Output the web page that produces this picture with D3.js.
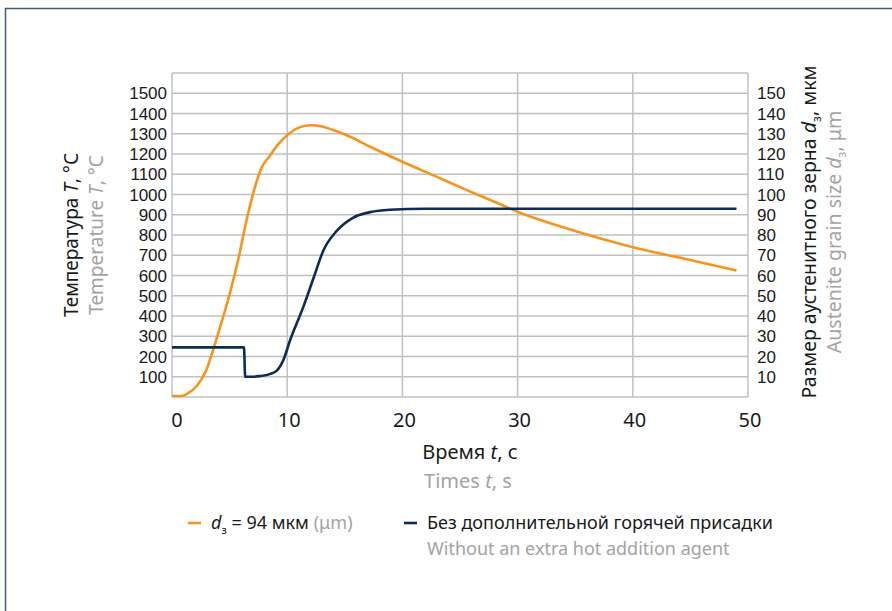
<!DOCTYPE html>
<html>
<head>
<meta charset="utf-8">
<script src="https://cdn.jsdelivr.net/npm/d3@7"></script>
<style>
  body { margin:0; background:#fff; }
  text { font-family: "Noto Sans", "Open Sans", sans-serif; }
  .tick { font-family: "Liberation Sans", Arial, sans-serif; }
</style>
</head>
<body>
<svg id="chart"></svg>
<script>
// temperature, deg C (left axis)
var tempTime = [0, 0.8, 1.3, 2.2, 2.9, 3.6, 4.35, 5.05, 5.8, 6.5, 7.2, 7.8, 8.4, 9.25, 10.1, 11, 12, 13, 14.3, 15.5, 17.2, 20, 23, 26, 28.5, 30, 34.3, 40, 44.4, 49];
var tempVal  = [5, 5, 15, 58, 123, 238, 378, 518, 691, 880, 1036, 1135, 1184, 1250, 1298, 1330, 1342, 1336, 1312, 1284, 1236, 1162, 1087, 1012, 952, 915, 832, 740, 684, 625];

// grain size without extra addition, um (right axis)
var grainTime = [0, 6.25, 6.35, 7.0, 7.6, 8.5, 9.1, 9.65, 10.25, 11.4, 12.3, 13.15, 14.3, 15.7, 17.2, 18.9, 22, 49];
var grainVal  = [24.5, 24.5, 10, 10, 10.3, 11.3, 13, 18, 28, 44.5, 59, 72.5, 82, 88.5, 91.3, 92.5, 93, 93];

var xTicks = [0, 10, 20, 30, 40, 50];
var leftTicks = [100, 200, 300, 400, 500, 600, 700, 800, 900, 1000, 1100, 1200, 1300, 1400, 1500];
var rightTicks = [10, 20, 30, 40, 50, 60, 70, 80, 90, 100, 110, 120, 130, 140, 150];

var width = 892, height = 611;
var orange = "#f7941d", navy = "#0c2c56", grey = "#a3a3a3", ink = "#1a1a1a";

var svg = d3.select("#chart")
    .attr("width", width)
    .attr("height", height);

svg.append("rect").attr("width", width).attr("height", height).attr("fill", "#fff");

// outer frame (only top and left visible)
svg.append("path")
    .attr("d", "M5.5," + height + "V8.5H" + width)
    .attr("fill", "none")
    .attr("stroke", "#41607f")
    .attr("stroke-width", 1.5);

var x = d3.scaleLinear().domain([0, 50]).range([172, 748]);
var yL = d3.scaleLinear().domain([0, 1600]).range([397, 73]);
var yR = d3.scaleLinear().domain([0, 160]).range([397, 73]);

// grid
var grid = svg.append("g").attr("stroke", "#c0c0c0").attr("stroke-width", 1.5);
grid.selectAll("line.h")
    .data(d3.range(0, 1601, 100))
    .enter().append("line")
    .attr("x1", x(0)).attr("x2", x(50))
    .attr("y1", function(d) { return yL(d); })
    .attr("y2", function(d) { return yL(d); });
grid.selectAll("line.v")
    .data(xTicks)
    .enter().append("line")
    .attr("y1", yL(0)).attr("y2", yL(1600))
    .attr("x1", function(d) { return x(d); })
    .attr("x2", function(d) { return x(d); });

// left tick labels
svg.append("g").selectAll("text")
    .data(leftTicks)
    .enter().append("text")
    .attr("class", "tick")
    .attr("x", 167)
    .attr("y", function(d) { return yL(d) + 6; })
    .attr("text-anchor", "end")
    .attr("font-size", 17)
    .attr("fill", ink)
    .text(function(d) { return d; });

// right tick labels
svg.append("g").selectAll("text")
    .data(rightTicks)
    .enter().append("text")
    .attr("class", "tick")
    .attr("x", 757)
    .attr("y", function(d) { return yR(d) + 6; })
    .attr("font-size", 17)
    .attr("fill", ink)
    .text(function(d) { return d; });

// x tick labels
svg.append("g").selectAll("text")
    .data(xTicks)
    .enter().append("text")
    .attr("x", function(d) { return x(d) + (d == 0 ? 5 : 2); })
    .attr("y", 427)
    .attr("text-anchor", "middle")
    .attr("font-size", 20)
    .attr("fill", ink)
    .text(function(d) { return d; });

// lines
var tempLine = d3.line()
    .x(function(d) { return x(d[0]); })
    .y(function(d) { return yL(d[1]); })
    .curve(d3.curveMonotoneX);
var grainLine = d3.line()
    .x(function(d) { return x(d[0]); })
    .y(function(d) { return yR(d[1]); })
    .curve(d3.curveMonotoneX);

svg.append("path")
    .datum(d3.zip(tempTime, tempVal))
    .attr("d", tempLine)
    .attr("fill", "none")
    .attr("stroke", orange)
    .attr("stroke-width", 2.6);

svg.append("path")
    .datum(d3.zip(grainTime, grainVal))
    .attr("d", grainLine)
    .attr("fill", "none")
    .attr("stroke", navy)
    .attr("stroke-width", 2.6);

// axis titles
var lt = svg.append("text")
    .attr("transform", "translate(78,235) rotate(-90)")
    .attr("text-anchor", "middle")
    .attr("font-size", 19)
    .attr("fill", ink);
lt.append("tspan").text("Температура ");
lt.append("tspan").attr("font-style", "italic").text("T");
lt.append("tspan").text(", °С");

var lt2 = svg.append("text")
    .attr("transform", "translate(103,235) rotate(-90)")
    .attr("text-anchor", "middle")
    .attr("font-size", 19)
    .attr("fill", grey);
lt2.append("tspan").text("Temperature ");
lt2.append("tspan").attr("font-style", "italic").text("T");
lt2.append("tspan").text(", °C");

var rt = svg.append("text")
    .attr("transform", "translate(816,232) rotate(-90)")
    .attr("text-anchor", "middle")
    .attr("font-size", 19.5)
    .attr("fill", ink);
rt.append("tspan").text("Размер аустенитного зерна ");
rt.append("tspan").attr("font-style", "italic").text("d");
rt.append("tspan").attr("font-size", 12).attr("dy", 5).text("з");
rt.append("tspan").attr("dy", -5).text(", мкм");

var rt2 = svg.append("text")
    .attr("transform", "translate(841,232) rotate(-90)")
    .attr("text-anchor", "middle")
    .attr("font-size", 19.5)
    .attr("fill", grey);
rt2.append("tspan").text("Austenite grain size ");
rt2.append("tspan").attr("font-style", "italic").text("d");
rt2.append("tspan").attr("font-size", 12).attr("dy", 5).text("з");
rt2.append("tspan").attr("dy", -5).text(", μm");

var xt = svg.append("text")
    .attr("x", 470).attr("y", 459)
    .attr("text-anchor", "middle")
    .attr("font-size", 20)
    .attr("fill", ink);
xt.append("tspan").text("Время ");
xt.append("tspan").attr("font-style", "italic").text("t");
xt.append("tspan").text(", с");

var xt2 = svg.append("text")
    .attr("x", 468).attr("y", 488)
    .attr("text-anchor", "middle")
    .attr("font-size", 20)
    .attr("fill", grey);
xt2.append("tspan").text("Times ");
xt2.append("tspan").attr("font-style", "italic").text("t");
xt2.append("tspan").text(", s");

// legend
var legend = svg.append("g");
legend.append("line")
    .attr("x1", 188).attr("x2", 201).attr("y1", 523).attr("y2", 523)
    .attr("stroke", orange).attr("stroke-width", 2.6);
var l1 = legend.append("text")
    .attr("x", 211).attr("y", 529)
    .attr("font-size", 18)
    .attr("fill", ink);
l1.append("tspan").attr("font-style", "italic").text("d");
l1.append("tspan").attr("font-size", 11).attr("dy", 5).text("з");
l1.append("tspan").attr("dy", -5).text(" = 94 мкм ");
l1.append("tspan").attr("fill", grey).text("(μm)");

legend.append("line")
    .attr("x1", 404).attr("x2", 417).attr("y1", 523).attr("y2", 523)
    .attr("stroke", navy).attr("stroke-width", 2.6);
legend.append("text")
    .attr("x", 427).attr("y", 529)
    .attr("font-size", 18)
    .attr("fill", ink)
    .text("Без дополнительной горячей присадки");
legend.append("text")
    .attr("x", 427).attr("y", 555)
    .attr("font-size", 18)
    .attr("fill", grey)
    .text("Without an extra hot addition agent");
</script>
</body>
</html>
